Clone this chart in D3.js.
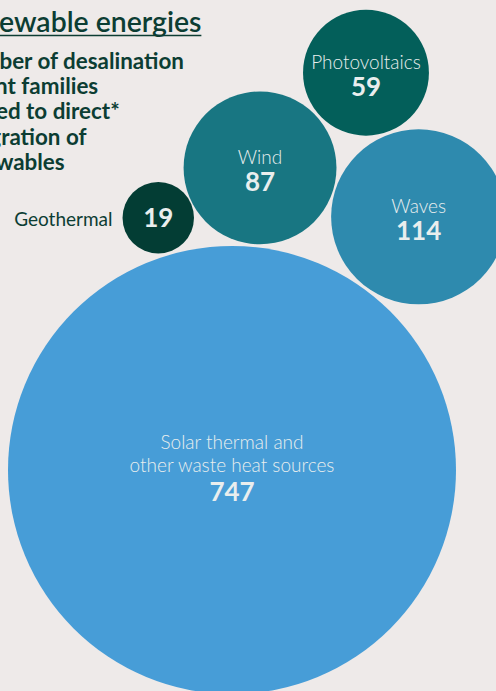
<!DOCTYPE html>
<html>
<head>
<meta charset="utf-8">
<script src="https://cdn.jsdelivr.net/npm/d3@7"></script>
<style>
    html, body { margin: 0; padding: 0; background: #eeeae9; }
    svg { display: block; }
    text { font-family: Lato, "Noto Sans", sans-serif; }
</style>
</head>
<body>
<svg id="chart" viewBox="0 0 496 691" width="496" height="691"></svg>
<script>
// Data: patent families per renewable source
const sources = ["Solar thermal and\nother waste heat sources", "Geothermal", "Wind", "Waves", "Photovoltaics"];
const counts = [747, 19, 87, 114, 59];
const colors = ["#479dd7", "#033d34", "#187682", "#2e8aae", "#035f5a"];

const titleText = "Renewable energies";
const subtitleLines = ["Number of desalination", "patent families", "related to direct*", "integration of", "renewables"];

const svg = d3.select("#chart");
const ink = "#0c3d33";
const labelFill = "#e9eeee";

// Radius by area
const r = d3.scaleSqrt().domain([0, d3.max(counts)]).range([0, 224]);

// Layout: the big circle is the anchor, three small ones sit on its rim,
// photovoltaics rests between wind and waves
const gap = 3;
const anchor = { x: 232, y: 470 };
const rimAngle = { "Geothermal": -106.3, "Wind": -84.7, "Waves": -53.6 };

const nodes = sources.map((s, i) => ({ name: s, value: counts[i], color: colors[i], r: r(counts[i]) }));
const byName = {};
nodes.forEach(n => byName[n.name] = n);

const big = nodes[0];
big.x = anchor.x;
big.y = anchor.y;

Object.keys(rimAngle).forEach(k => {
    const n = byName[k];
    const a = rimAngle[k] * Math.PI / 180;
    const d = big.r + n.r + gap;
    n.x = big.x + d * Math.cos(a);
    n.y = big.y + d * Math.sin(a);
});

// tangent to two circles (upper intersection)
function restOn(n, a, b) {
    const ra = a.r + n.r + gap, rb = b.r + n.r + gap;
    const dx = b.x - a.x, dy = b.y - a.y;
    const d = Math.hypot(dx, dy);
    const l = (ra * ra - rb * rb + d * d) / (2 * d);
    const h = Math.sqrt(Math.max(0, ra * ra - l * l));
    const mx = a.x + l * dx / d, my = a.y + l * dy / d;
    n.x = mx + h * dy / d;
    n.y = my - h * dx / d;
}
restOn(byName["Photovoltaics"], byName["Wind"], byName["Waves"]);

// Circles
const g = svg.append("g").attr("class", "bubbles");

const bubble = g.selectAll(".bubble")
    .data(nodes)
    .enter()
    .append("g")
    .attr("class", "bubble")
    .attr("transform", d => `translate(${d.x},${d.y})`);

bubble.append("circle")
    .attr("r", d => d.r)
    .attr("fill", d => d.color);

// Labels inside the circles (geothermal is too small, label goes outside)
bubble.filter(d => d.name !== "Geothermal")
    .each(function(d) {
        const el = d3.select(this);
        const lines = d.name.split("\n");
        const top = lines.length > 1 ? -21 : -4;
        lines.forEach((line, i) => {
            el.append("text")
                .attr("text-anchor", "middle")
                .attr("y", top + i * 23)
                .attr("fill", labelFill)
                .attr("font-size", 19)
                .attr("font-weight", 300)
                .text(line);
        });
        el.append("text")
            .attr("text-anchor", "middle")
            .attr("y", top + (lines.length - 1) * 23 + (lines.length > 1 ? 29 : 27))
            .attr("fill", labelFill)
            .attr("font-size", 26)
            .attr("font-weight", 700)
            .text(d.value);
    });

const geo = bubble.filter(d => d.name === "Geothermal");
geo.append("text")
    .attr("text-anchor", "middle")
    .attr("y", 9)
    .attr("fill", labelFill)
    .attr("font-size", 26)
    .attr("font-weight", 700)
    .text(d => d.value);
geo.append("text")
    .attr("text-anchor", "end")
    .attr("x", d => -d.r - 10)
    .attr("y", 8)
    .attr("fill", ink)
    .attr("font-size", 19)
    .text(d => d.name);

// Title block (partly cut off at the left, as in the source page)
const left = -49;
const title = svg.append("text")
    .attr("x", left)
    .attr("y", 31.5)
    .attr("fill", ink)
    .attr("font-size", 28.4)
    .attr("font-weight", 600)
    .text(titleText);

const tw = title.node().getComputedTextLength();
svg.append("line")
    .attr("x1", left).attr("x2", left + tw)
    .attr("y1", 35.5).attr("y2", 35.5)
    .attr("stroke", ink)
    .attr("stroke-width", 1.6);

svg.selectAll(".subtitle")
    .data(subtitleLines)
    .enter()
    .append("text")
    .attr("class", "subtitle")
    .attr("x", left)
    .attr("y", (d, i) => 68.5 + i * 25.4)
    .attr("fill", ink)
    .attr("font-size", 22.4)
    .attr("font-weight", 700)
    .text(d => d);
</script>
</body>
</html>
